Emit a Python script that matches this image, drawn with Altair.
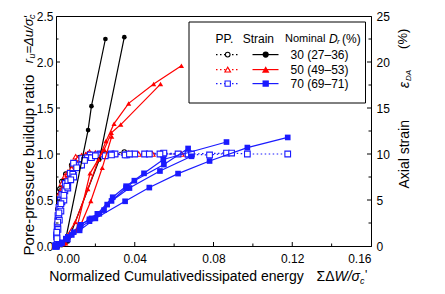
import altair as alt
import pandas as pd

# ---------------- data ----------------
# x: normalized cumulative dissipated energy; PP: r_u ; strain: eps_DA (%)
# Dr = 30 %
pp30a_x = [0, 0.0003, 0.0006, 0.001, 0.0015, 0.002, 0.003, 0.005, 0.008, 0.012, 0.017, 0.0251]
pp30a_y = [0, 0.10, 0.25, 0.40, 0.55, 0.62, 0.70, 0.78, 0.88, 0.96, 1.00, 1.00]
pp30b_x = [0, 0.0004, 0.0008, 0.0015, 0.0025, 0.004, 0.007, 0.012, 0.018, 0.022, 0.0347]
pp30b_y = [0, 0.15, 0.30, 0.45, 0.60, 0.70, 0.80, 0.92, 0.98, 1.00, 1.02]
st30a_x = [0, 0.002, 0.0045, 0.0163, 0.018, 0.0251]
st30a_y = [0, 0.1, 0.3, 12.6, 15.2, 22.5]
st30b_x = [0, 0.003, 0.006, 0.022, 0.0347]
st30b_y = [0, 0.1, 0.5, 9.4, 22.7]

# Dr = 50 %
pp50a_x = [0, 0.0003, 0.0006, 0.001, 0.0015, 0.002, 0.003, 0.0045, 0.006, 0.0085, 0.010, 0.013, 0.017, 0.022, 0.0287, 0.037, 0.049, 0.0637]
pp50a_y = [0, 0.10, 0.20, 0.30, 0.45, 0.58, 0.68, 0.76, 0.80, 0.90, 0.97, 0.98, 1.02, 1.00, 1.00, 1.01, 1.00, 1.00]
pp50b_x = [0, 0.0004, 0.0008, 0.0013, 0.002, 0.003, 0.005, 0.008, 0.011, 0.016, 0.022, 0.030, 0.042, 0.0531]
pp50b_y = [0, 0.12, 0.25, 0.38, 0.50, 0.62, 0.72, 0.84, 0.95, 1.00, 1.00, 1.00, 1.00, 1.01]
pp50c_x = [0, 0.0005, 0.001, 0.002, 0.0035, 0.006, 0.010, 0.015, 0.020, 0.0283]
pp50c_y = [0, 0.10, 0.25, 0.45, 0.62, 0.78, 0.92, 0.99, 1.01, 1.00]
st50a_x = [0, 0.003, 0.0098, 0.0162, 0.0216, 0.0254, 0.0295, 0.0369, 0.0496, 0.0637]
st50a_y = [0, 0.2, 2.6, 6.2, 9.4, 11.4, 13.3, 15.5, 17.6, 19.6]
st50b_x = [0, 0.004, 0.0103, 0.0173, 0.0245, 0.0281, 0.0329, 0.0531]
st50b_y = [0, 0.3, 1.7, 7.9, 10.5, 12.3, 13.2, 17.6]
st50c_x = [0, 0.005, 0.012, 0.0177, 0.0235, 0.0283]
st50c_y = [0, 0.3, 2.0, 4.9, 8.5, 11.9]

# Dr = 70 %
pp70a_x = [0, 0.0003, 0.0006, 0.001, 0.0015, 0.0022, 0.003, 0.0047, 0.0072, 0.0089, 0.0131, 0.0174, 0.0224, 0.028, 0.036, 0.045, 0.0545, 0.0671, 0.0866]
pp70a_y = [0, 0.12, 0.22, 0.33, 0.42, 0.50, 0.56, 0.68, 0.79, 0.90, 0.95, 0.99, 1.00, 1.00, 0.99, 1.00, 1.00, 1.00, 1.01]
pp70b_x = [0, 0.0004, 0.0008, 0.0013, 0.002, 0.003, 0.0045, 0.006, 0.0085, 0.012, 0.016, 0.021, 0.030, 0.040, 0.0548, 0.0671]
pp70b_y = [0, 0.10, 0.20, 0.30, 0.40, 0.48, 0.60, 0.70, 0.78, 0.88, 0.96, 0.99, 1.00, 1.00, 1.01, 1.00]
pp70c_x = [0, 0.0005, 0.001, 0.0017, 0.0025, 0.004, 0.006, 0.009, 0.013, 0.018, 0.025, 0.0351, 0.0474, 0.062, 0.078, 0.0892, 0.0972, 0.1177]
pp70c_y = [0, 0.08, 0.18, 0.28, 0.38, 0.50, 0.63, 0.75, 0.88, 0.96, 0.98, 0.99, 1.00, 1.00, 0.99, 1.01, 1.00, 1.00]
pp70d_x = [0, 0.0004, 0.0009, 0.0015, 0.0025, 0.004, 0.0055, 0.0075, 0.0105, 0.0145, 0.020, 0.0282, 0.0373, 0.0528, 0.0688]
pp70d_y = [0, 0.15, 0.26, 0.36, 0.46, 0.55, 0.65, 0.72, 0.85, 0.93, 0.98, 0.99, 1.00, 1.00, 1.00]
st70a_x = [0, 0.002, 0.005, 0.009, 0.0125, 0.017, 0.021, 0.0288, 0.0356, 0.0447, 0.0545, 0.0866]
st70a_y = [0, 0.2, 0.8, 1.5, 2.3, 2.9, 3.5, 5.3, 6.5, 7.9, 9.4, 11.3]
st70b_x = [0, 0.003, 0.006, 0.0125, 0.018, 0.022, 0.026, 0.0356, 0.0398, 0.0548, 0.0671]
st70b_y = [0, 0.4, 1.0, 2.3, 3.0, 3.5, 4.5, 6.3, 7.1, 8.85, 10.6]
st70c_x = [0, 0.006, 0.012, 0.020, 0.0351, 0.0474, 0.062, 0.078, 0.0972, 0.1177]
st70c_y = [0, 0.7, 1.7, 3.0, 4.86, 6.35, 7.87, 9.24, 10.7, 11.8]
st70d_x = [0, 0.003, 0.008, 0.012, 0.017, 0.0244, 0.0282, 0.0373, 0.0528, 0.0688]
st70d_y = [0, 0.3, 1.2, 2.0, 2.7, 3.9, 4.9, 6.3, 8.15, 9.75]

groups = ["30", "50", "70"]
group_labels = ["30 (27\u201336)", "50 (49\u201353)", "70 (69\u201371)"]
colors = ["#000000", "#ff0000", "#1a1aff"]
shapes = ["circle", "triangle-up", "square"]
open_sizes = [22, 32, 28]
filled_sizes = [38, 56, 40]

x_major = [0.0, 0.04, 0.08, 0.12, 0.16]
x_minor = [0.02, 0.06, 0.10, 0.14]
ru_major = [0.0, 0.5, 1.0, 1.5, 2.0, 2.5]
ru_minor = [0.25, 0.75, 1.25, 1.75, 2.25]
strain_major = [0, 5, 10, 15, 20, 25]

pp_series = [
    ("30", "a", pp30a_x, pp30a_y), ("30", "b", pp30b_x, pp30b_y),
    ("50", "a", pp50a_x, pp50a_y), ("50", "b", pp50b_x, pp50b_y), ("50", "c", pp50c_x, pp50c_y),
    ("70", "a", pp70a_x, pp70a_y), ("70", "b", pp70b_x, pp70b_y), ("70", "c", pp70c_x, pp70c_y), ("70", "d", pp70d_x, pp70d_y),
]
st_series = [
    ("30", "a", st30a_x, st30a_y), ("30", "b", st30b_x, st30b_y),
    ("50", "a", st50a_x, st50a_y), ("50", "b", st50b_x, st50b_y), ("50", "c", st50c_x, st50c_y),
    ("70", "a", st70a_x, st70a_y), ("70", "b", st70b_x, st70b_y), ("70", "c", st70c_x, st70c_y), ("70", "d", st70d_x, st70d_y),
]


def build(series, ycol):
    rows = []
    for g, t, xs, ys in series:
        for i, (xv, yv) in enumerate(zip(xs, ys)):
            rows.append({"x": xv, ycol: yv, "grp": g, "test": g + t, "ord": i})
    return pd.DataFrame(rows)


pp_df = build(pp_series, "ru")
st_df = build(st_series, "strain")

W, H = 315, 230
FONT = "Liberation Sans"

color_scale = alt.Scale(domain=groups, range=colors)
shape_scale = alt.Scale(domain=groups, range=shapes)

X = alt.X("x:Q", scale=alt.Scale(domain=[0, 0.16], nice=False, zero=False),
          axis=alt.Axis(values=x_major, format=".2f", title=None, labelPadding=7))
YL = alt.Y("ru:Q", scale=alt.Scale(domain=[0, 2.5], nice=False),
           axis=alt.Axis(values=ru_major, format=".1f", title=None, orient="left", labelPadding=3))
YR = alt.Y("strain:Q", scale=alt.Scale(domain=[0, 25], nice=False),
           axis=alt.Axis(values=strain_major, format="d", title=None, orient="right", labelPadding=5))
C = alt.Color("grp:N", scale=color_scale, legend=None)
S = alt.Shape("grp:N", scale=shape_scale, legend=None)
SZ_open = alt.Size("grp:N", scale=alt.Scale(domain=groups, range=open_sizes), legend=None)
SZ_fill = alt.Size("grp:N", scale=alt.Scale(domain=groups, range=filled_sizes), legend=None)

pp_line = alt.Chart(pp_df).mark_line(strokeDash=[1.5, 2.5], strokeWidth=1.2).encode(
    x=X, y=YL, color=C, detail="test:N", order="ord:Q")
pp_pts = alt.Chart(pp_df).mark_point(filled=False, fill="white", strokeWidth=1.1, opacity=1).encode(
    x=X, y=YL, color=C, shape=S, size=SZ_open)

st_line = alt.Chart(st_df).mark_line(strokeWidth=1.2).encode(
    x=X, y=YR, color=C, detail="test:N", order="ord:Q")
st_pts = alt.Chart(st_df).mark_point(filled=True, opacity=1).encode(
    x=X, y=YR, color=C, shape=S, size=SZ_fill)

# inward ticks
xmaj_df = pd.DataFrame({"x": x_major[1:-1]})
xmin_df = pd.DataFrame({"x": x_minor})
ymaj_df = pd.DataFrame({"ru": ru_major[1:-1]})
ymin_df = pd.DataFrame({"ru": ru_minor})
tk = dict(color="black", strokeWidth=1)
xt1 = alt.Chart(xmaj_df).mark_rule(**tk).encode(x=X, y=alt.value(H), y2=alt.value(H - 4))
xt2 = alt.Chart(xmin_df).mark_rule(**tk).encode(x=X, y=alt.value(H), y2=alt.value(H - 2.5))
yt1 = alt.Chart(ymaj_df).mark_rule(**tk).encode(y=YL, x=alt.value(0), x2=alt.value(4))
yt2 = alt.Chart(ymin_df).mark_rule(**tk).encode(y=YL, x=alt.value(0), x2=alt.value(2.5))
yt3 = alt.Chart(ymaj_df).mark_rule(**tk).encode(y=YL, x=alt.value(W), x2=alt.value(W - 4))
yt4 = alt.Chart(ymin_df).mark_rule(**tk).encode(y=YL, x=alt.value(W), x2=alt.value(W - 2.5))

one = pd.DataFrame({"a": [0]})


def txt(s, x, y, size=14, angle=0, align="center", style="normal", baseline="middle"):
    return alt.Chart(pd.DataFrame({"t": [s]})).mark_text(
        font=FONT, fontSize=size, angle=angle, align=align, baseline=baseline,
        fontStyle=style, color="black").encode(text="t:N", x=alt.value(x), y=alt.value(y))


# legend
legend_layers = [
    alt.Chart(one).mark_rect(fill="white", stroke="black", strokeWidth=1).encode(
        x=alt.value(133), x2=alt.value(309.5), y=alt.value(6), y2=alt.value(87)),
    txt("PP.", 168.5, 22.6, 12),
    txt("Strain", 202.3, 22.6, 12),
    txt("Nominal", 229, 22.6, 11, align="left"),
    txt("D", 273, 22.6, 12, align="left", style="italic"),
    txt("r", 281, 25.5, 8, align="left", style="italic"),
    txt("(%)", 286, 22.6, 12, align="left"),
]
row_y = [38.6, 53.6, 67.6]
for g, lab, col, shp, so, sf, yy in zip(groups, group_labels, colors, shapes, open_sizes, filled_sizes, row_y):
    legend_layers += [
        alt.Chart(one).mark_rule(color=col, strokeWidth=1.2, strokeDash=[1.5, 2.5]).encode(
            x=alt.value(160), x2=alt.value(183), y=alt.value(yy)),
        alt.Chart(one).mark_point(shape=shp, filled=False, fill="white", color=col, strokeWidth=1.1,
                                  opacity=1, size=so).encode(x=alt.value(171.7), y=alt.value(yy)),
        alt.Chart(one).mark_rule(color=col, strokeWidth=1.2).encode(
            x=alt.value(196.5), x2=alt.value(222.5), y=alt.value(yy)),
        alt.Chart(one).mark_point(shape=shp, filled=True, color=col, opacity=1, size=sf).encode(
            x=alt.value(209.7), y=alt.value(yy)),
        txt(lab, 234.5, yy, 12, align="left"),
    ]

# axis titles as text
title_layers = [
    txt("Pore-pressure buildup ratio", -27, 149, 15, angle=270),
    txt("r", -27, 47.3, 13, angle=270, align="left", style="italic"),
    txt("u", -24, 42.5, 9, angle=270, align="left", style="italic"),
    txt("=\u0394u/\u03c3'", -27, 37.5, 13, angle=270, align="left", style="italic"),
    txt("c", -24, 3, 9, angle=270, align="left", style="italic"),
    txt("Normalized Cumulativedissipated energy", 120.5, 261, 14),
    txt("\u03a3\u0394", 260.5, 261, 14, align="left"),
    txt("W/\u03c3", 278.5, 261, 14, align="left", style="italic"),
    txt("c", 304, 264.5, 9, align="left", style="italic"),
    txt("'", 309, 259, 12, align="left"),
    txt("Axial strain", 348.5, 138.3, 14, angle=270),
    txt("\u03b5", 348.5, 72, 14, angle=270, align="left", style="italic"),
    txt("DA", 352.5, 65, 8, angle=270, align="left", style="italic"),
    txt("(%)", 347, 22.8, 13, angle=270),
]

left = alt.layer(pp_line, pp_pts, yt1, yt2, yt3, yt4)
right = alt.layer(st_line, st_pts)

chart = alt.layer(left, right, xt1, xt2, *legend_layers, *title_layers).resolve_scale(
    y="independent"
).properties(
    width=W, height=H,
    autosize=alt.AutoSizeParams(type="none"),
    padding={"left": 48, "top": 8, "right": 66, "bottom": 40},
).configure_axis(
    labelFont=FONT, labelFontSize=12, labelColor="black", domainColor="black",
    domainWidth=1, ticks=False, grid=False,
).configure_view(stroke="black", strokeWidth=1)

chart.save("out.html", embed_options={"renderer": "svg", "actions": False})
